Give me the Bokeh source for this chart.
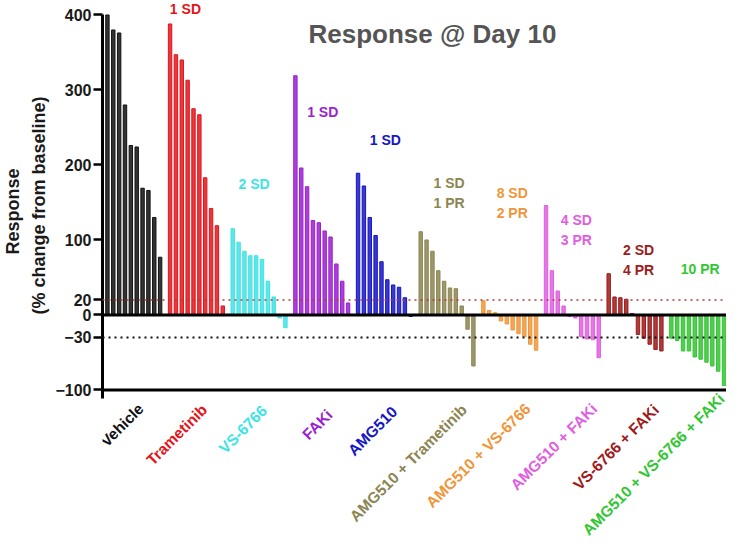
import math
from bokeh.plotting import figure
from bokeh.models import ColumnDataSource, Span, Label, Title, FixedTicker, Range1d
from bokeh.embed import file_html
from bokeh.resources import INLINE

# ---------------- data ----------------
groups = ["Vehicle", "Trametinib", "VS-6766", "FAKi", "AMG510",
          "AMG510 + Trametinib", "AMG510 + VS-6766", "AMG510 + FAKi",
          "VS-6766 + FAKi", "AMG510 + VS-6766 + FAKi"]
colors = ["#111111", "#e3151b", "#3fe3e6", "#9b1fd1", "#1616c4",
          "#8c8552", "#f0963a", "#e05ee0", "#9e1b1b", "#33c633"]

vehicle = [400, 380, 376, 280, 226, 224, 169, 166, 130, 77]
trametinib = [388, 347, 340, 313, 275, 267, 183, 142, 119, 12]
vs6766 = [115, 97, 85, 79, 79, 74, 45, 24, -4, -17]
faki = [319, 196, 171, 126, 123, 112, 104, 68, 45, 16]
amg510 = [189, 172, 130, 106, 71, 47, 40, 37, 23, -2]
amg510_trametinib = [111, 100, 85, 59, 45, 36, 35, 12, -19, -68]
amg510_vs6766 = [19, 6, 3, -8, -12, -20, -25, -29, -39, -47]
amg510_faki = [146, 59, 32, 12, -2, -4, -29, -32, -33, -57]
vs6766_faki = [55, 24, 23, 21, 2, -26, -31, -39, -46, -48]
amg510_vs6766_faki = [-31, -34, -48, -48, -56, -59, -63, -68, -75, -94]

series = [vehicle, trametinib, vs6766, faki, amg510, amg510_trametinib,
          amg510_vs6766, amg510_faki, vs6766_faki, amg510_vs6766_faki]

notes = [[], ["1 SD"], ["2 SD"], ["1 SD"], ["1 SD"], ["1 SD", "1 PR"],
         ["8 SD", "2 PR"], ["4 SD", "3 PR"], ["2 SD", "4 PR"], ["10 PR"]]

y_ticks = [-100, -30, 0, 20, 100, 200, 300, 400]
title_text = "Response @ Day 10"
y_title_1 = "Response"
y_title_2 = "(% change from baseline)"

# ---------------- layout of bars ----------------
GROUP_STEP_EXTRA = 0.7
xs, tops, cols, centers = [], [], [], []
pos = 0.0
for g, vals in enumerate(series):
    start = pos
    for v in vals:
        xs.append(pos)
        tops.append(v)
        cols.append(colors[g])
        pos += 1
    centers.append((start + pos - 1) / 2.0)
    pos += GROUP_STEP_EXTRA

src = ColumnDataSource(dict(x=xs, top=tops, color=cols))

FONT = "Liberation Sans"

p = figure(width=726, height=540, output_backend="svg", toolbar_location=None,
           x_range=Range1d(-0.84, 105.72), y_range=Range1d(-300.7, 419.3),
           x_axis_location=None,
           min_border_left=93, min_border_right=0, min_border_top=0,
           min_border_bottom=0, background_fill_color="white",
           border_fill_color="white", outline_line_color=None)
p.grid.visible = False

# reference lines
p.add_layout(Span(location=20, dimension="width", line_color="#b83a3a",
                  line_dash="2 4", line_width=1.5))
p.add_layout(Span(location=-30, dimension="width", line_color="#111111",
                  line_dash="2 4", line_width=2))

p.vbar(x="x", top="top", bottom=0, width=0.58, source=src,
       fill_color="color", fill_alpha=0.85, line_color="color", line_width=1)

p.add_layout(Span(location=0, dimension="width", line_color="black", line_width=3))
p.add_layout(Span(location=-100, dimension="width", line_color="black", line_width=3))

# y axis
ya = p.yaxis[0]
ya.bounds = (-112, 400)
ya.ticker = FixedTicker(ticks=y_ticks)
ya.axis_line_width = 3
ya.axis_line_color = "black"
ya.major_tick_line_width = 2.5
ya.major_tick_out = 9
ya.major_tick_in = 0
ya.minor_tick_line_color = None
ya.major_label_standoff = 2
ya.major_label_text_font = FONT
ya.major_label_text_font_style = "bold"
ya.major_label_text_font_size = "16px"
ya.major_label_text_color = "#1a1a1a"

for txt, so, off in [(y_title_2, 7, 96), (y_title_1, 1, 168)]:
    p.add_layout(Title(text=txt, align="right", offset=off, standoff=so,
                       text_font=FONT, text_font_style="bold",
                       text_font_size="18px", text_color="#1a1a1a"), "left")

# title
p.add_layout(Label(x=55.5, y=374.5, text=title_text, text_align="center",
                   text_baseline="middle", text_font=FONT, text_font_style="bold",
                   text_font_size="26px", text_color="#555555"))

# group notes
note_y = [0, 408, 175, 270, 233, 176, 163, 127, 87, 61]
note_dx = [0, -11, -5, 1, 1, 2, 2.5, 4, 3.5, 2.5]
for g, lines in enumerate(notes):
    for k, t in enumerate(lines):
        p.add_layout(Label(x=centers[g], y=note_y[g], x_offset=note_dx[g],
                           y_offset=-20 * k, text=t, text_align="center",
                           text_baseline="middle", text_font=FONT,
                           text_font_style="bold", text_font_size="14px",
                           text_color=colors[g]))

# category labels (rotated)
label_dx = [7, 8, 5, 8, 10, 17, 18, 22, 21, 24]
label_dy = [-4, -5, -6, -10, -7, -5, -4, -4, -5, 6]
for g, name in enumerate(groups):
    p.add_layout(Label(x=centers[g], y=-116, x_offset=label_dx[g],
                       y_offset=label_dy[g], text=name,
                       angle=math.pi / 4, text_align="right",
                       text_baseline="middle", text_font=FONT,
                       text_font_style="bold", text_font_size="15.5px",
                       text_color=colors[g]))

open("out.html", "w").write(file_html(p, INLINE))
